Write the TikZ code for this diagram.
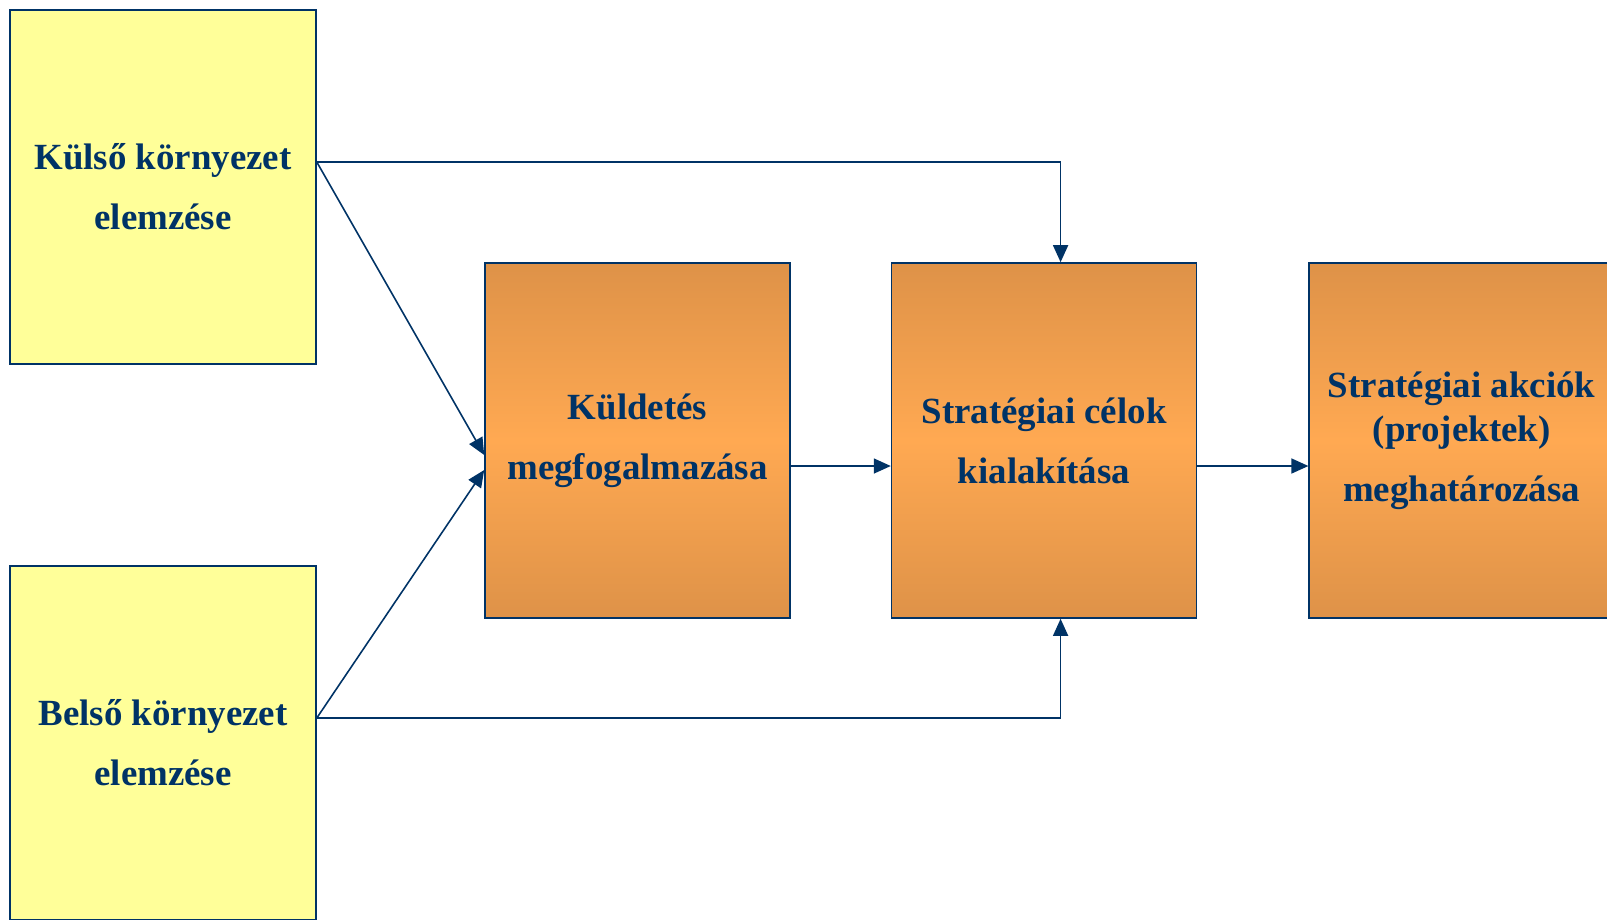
\documentclass[tikz,border=0pt]{standalone}
\usepackage{fontspec}
\setmainfont{Liberation Serif}
\usetikzlibrary{arrows.meta,positioning}
\definecolor{planNavy}{RGB}{0,51,102}
\definecolor{planYellow}{RGB}{255,255,153}
\definecolor{planOrangeDark}{RGB}{222,146,72}
\definecolor{planOrangeLight}{RGB}{255,169,82}
\tikzset{
  envbox/.style={
    rectangle, draw=planNavy, line width=0.9pt, fill=planYellow,
    text=planNavy, align=center, minimum width=6.12cm, minimum height=7.08cm,
    font=\fontsize{21}{34}\selectfont\bfseries},
  stepbox/.style={
    envbox, top color=planOrangeDark, bottom color=planOrangeDark,
    middle color=planOrangeLight, minimum width=6.1cm, minimum height=7.1cm},
  arrowline/.style={-{Triangle[length=0.34cm,width=0.3cm]}, line width=0.9pt, draw=planNavy}
}

\begin{document}
\begin{tikzpicture}
        \clip (0,0) rectangle (32.14,-18.38);
        \fill[white] (0,0) rectangle (32.14,-18.38);

        \node[envbox] (kulso) at (3.26,-3.74) {Külső környezet\\elemzése};
        \node[envbox] (belso) at (3.26,-14.86) {Belső környezet\\elemzése};

        \node[stepbox] (kuldetes) at (12.75,-8.81) {Küldetés\\megfogalmazása};
        \node[stepbox, right=2.0cm of kuldetes] (celok) {Stratégiai célok\\kialakítása};
        \node[stepbox, right=2.22cm of celok] (akciok) {Stratégiai akciók\\[-9pt](projektek)\\meghatározása};

        \draw[arrowline] ([yshift=0.5cm]kulso.east) -- ([yshift=-0.29cm]kuldetes.west);
        \draw[arrowline] ([yshift=0.5cm]belso.east) -- ([yshift=-0.59cm]kuldetes.west);
        \draw[arrowline] ([yshift=0.5cm]kulso.east) -| ([xshift=0.33cm]celok.north);
        \draw[arrowline] ([yshift=0.5cm]belso.east) -| ([xshift=0.33cm]celok.south);
        \draw[arrowline] ([yshift=-0.51cm]kuldetes.east) -- ([yshift=-0.51cm]celok.west);
        \draw[arrowline] ([yshift=-0.51cm]celok.east) -- ([yshift=-0.51cm]akciok.west);
      \end{tikzpicture}
\end{document}
